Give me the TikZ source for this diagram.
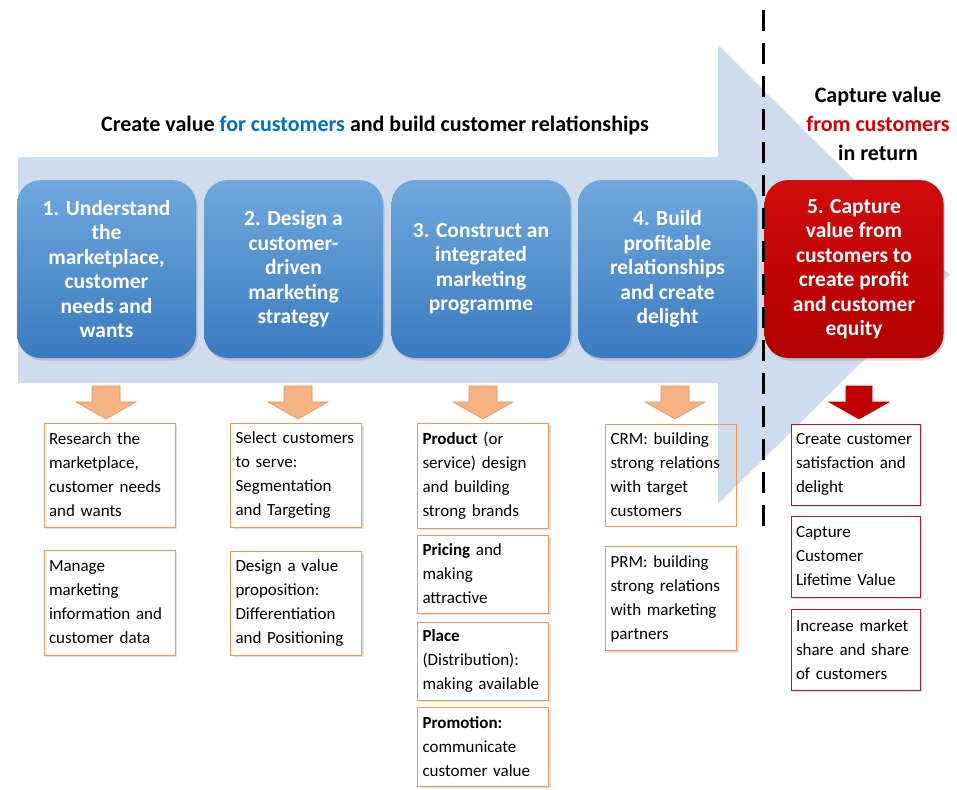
\documentclass[tikz,border=0pt]{standalone}
\usepackage{fontspec}
\setmainfont{Carlito}
\usetikzlibrary{shadows}
\definecolor{arrowbg}{RGB}{207,220,238}
\definecolor{boxtop}{RGB}{112,168,221}
\definecolor{boxbot}{RGB}{58,122,192}
\definecolor{redtop}{RGB}{208,12,12}
\definecolor{redbot}{RGB}{178,0,0}
\definecolor{orfill}{RGB}{245,178,131}
\definecolor{ordraw}{RGB}{222,150,100}
\definecolor{orborder}{RGB}{240,150,90}
\definecolor{rdborder}{RGB}{175,25,45}
\definecolor{forblue}{RGB}{0,112,192}
\definecolor{fromred}{RGB}{210,0,0}
\definecolor{darkred}{RGB}{192,0,0}
\newcommand{\blkarrow}[4]{%
  \filldraw[#2] ({#1-#3},386) -- ({#1+#3},386) -- ({#1+#3},402) -- ({#1+#4},402)
    -- (#1,419) -- ({#1-#4},402) -- ({#1-#3},402) -- cycle;}
\begin{document}
\begin{tikzpicture}[x=1pt,y=-1pt,
  stepbox/.style={rounded corners=24pt, minimum width=179pt, minimum height=178pt,
    text=white, font=\bfseries\fontsize{21.5}{24.5}\selectfont, align=center,
    drop shadow={opacity=0.3, shadow xshift=1.5pt, shadow yshift=-2.5pt}},
  bluebox/.style={stepbox, top color=boxtop, bottom color=boxbot},
  redbox/.style={stepbox, top color=redtop, bottom color=redbot},
  itembox/.style={draw=orborder, line width=0.8pt, minimum width=131pt, text width=121pt,
    inner xsep=5pt, inner ysep=3pt, align=left, font=\fontsize{17}{24}\selectfont},
  shadowed/.style={fill=white, drop shadow={opacity=0.25, shadow xshift=2pt, shadow yshift=-2pt}},
  reditem/.style={itembox, draw=rdborder, minimum width=129pt, text width=119pt},
  headtext/.style={font=\bfseries\fontsize{22}{29}\selectfont, align=center},
  orangearrow/.style={fill=orfill, draw=ordraw, line width=0.6pt},
  redarrow/.style={fill=darkred, draw=darkred, line width=0.6pt},
  dashline/.style={line width=3pt, dash pattern=on 21pt off 12pt}
]
\useasboundingbox (0,0) rectangle (957,789);

% big background arrow
\fill[arrowbg] (18,157) -- (718,157) -- (718,45) -- (950,275) -- (718,504)
  -- (718,383) -- (18,383) -- cycle;

% headings
\node[headtext] (title) at (375,125) {Create value \textcolor{forblue}{for customers} and build customer relationships};
\node[headtext] (capture) at (878,124) {Capture value\\\textcolor{fromred}{from customers}\\in return};

% step boxes
\node[bluebox] (s1) at (106.5,269) {1. Understand\\the\\marketplace,\\customer\\needs and\\wants};
\node[bluebox] (s2) at (293.5,269) {2. Design a\\customer-\\driven\\marketing\\strategy};
\node[bluebox] (s3) at (481,269) {3. Construct an\\integrated\\marketing\\programme};
\node[bluebox] (s4) at (667.5,269) {4. Build\\profitable\\relationships\\and create\\delight};
\node[redbox] (s5) at (854,269) {5. Capture\\value from\\customers to\\create profit\\and customer\\equity};

% block arrows
\blkarrow{106}{orangearrow}{14}{30}
\blkarrow{298}{orangearrow}{14}{30}
\blkarrow{483}{orangearrow}{14}{30}
\blkarrow{675}{orangearrow}{14}{30}
\blkarrow{859}{redarrow}{13}{30}

% item boxes
\node[itembox, shadowed, minimum height=104pt] (c1a) at (109.5,475) {Research the\\marketplace,\\customer needs\\and wants};
\node[itembox, shadowed, minimum height=105pt] (c1b) at (109.5,602.5) {Manage\\marketing\\information and\\customer data};
\node[itembox, shadowed, minimum height=104pt] (c2a) at (296,475) {Select customers\\to serve:\\Segmentation\\and Targeting};
\node[itembox, shadowed, minimum height=104pt] (c2b) at (296,603) {Design a value\\proposition:\\Differentiation\\and Positioning};
\node[itembox, shadowed, minimum height=105pt] (c3a) at (483,475.5) {\textbf{Product} (or\\service) design\\and building\\strong brands};
\node[itembox, shadowed, minimum height=78pt] (c3b) at (483,574) {\textbf{Pricing} and\\making\\attractive};
\node[itembox, shadowed, minimum height=78pt] (c3c) at (483,661) {\textbf{Place}\\(Distribution):\\making available};
\node[itembox, shadowed, minimum height=79pt] (c3d) at (483,746.5) {\textbf{Promotion:}\\communicate\\customer value};
\node[itembox, minimum height=102pt] (c4a) at (671,475) {CRM: building\\strong relations\\with target\\customers};
\node[itembox, shadowed, minimum height=104pt] (c4b) at (671,598.5) {PRM: building\\strong relations\\with marketing\\partners};
\node[reditem, shadowed, minimum height=81pt] (c5a) at (855.5,464.5) {Create customer\\satisfaction and\\delight};
\node[reditem, shadowed, minimum height=81pt] (c5b) at (855.5,556.5) {Capture\\Customer\\Lifetime Value};
\node[reditem, shadowed, minimum height=81pt] (c5c) at (855.5,649.5) {Increase market\\share and share\\of customers};

% dashed divider
\coordinate (dtop) at (763,10);
\coordinate (dbot) at (763,527);
\draw[dashline] (dtop) -- (dbot);
\end{tikzpicture}
\end{document}
